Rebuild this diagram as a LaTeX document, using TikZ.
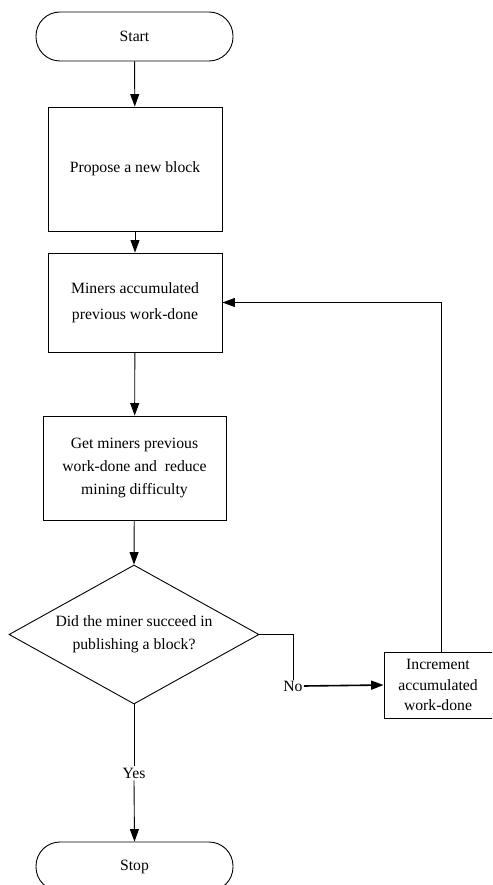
\documentclass[tikz,border=0pt]{standalone}
\usepackage{fontspec}
\setmainfont{Liberation Serif}
\usetikzlibrary{arrows.meta,shapes.geometric}
\begin{document}
\begin{tikzpicture}[x=1pt,y=-1pt,
  every node/.style={font=\fontsize{15.7}{23}\selectfont},
  line/.style={draw, line width=0.9pt},
  tip/.style={-{Triangle[length=12.5pt,width=9pt]}},
  flow/.style={line, tip},
  terminal/.style={draw, line width=0.9pt, rounded corners=24pt,
    minimum width=197pt, minimum height=49pt, inner sep=0pt},
  process/.style={draw, line width=0.9pt, align=center, inner sep=0pt},
  decision/.style={draw, line width=0.9pt, diamond, inner sep=0pt,
    minimum width=250pt, minimum height=139pt}
]
\useasboundingbox (0,0) rectangle (492,885);
\begin{scope}
\clip (0,0) rectangle (492,885);

% terminals
\node[terminal] (start) at (134.5,36.5) {Start};
\node[terminal] (stop)  at (134.5,866.5) {Stop};

% process steps
\node[process, minimum width=174pt, minimum height=124pt] (propose) at (135,169)
  {Propose a new block};
\node[process, minimum width=174pt, minimum height=99pt,
  font=\fontsize{15.7}{26}\selectfont] (acc) at (135,302.5)
  {Miners accumulated\\previous work-done};
\node[process, minimum width=183pt, minimum height=104pt] (get) at (134.5,468)
  {Get miners previous\\work-done and\ \ reduce\\mining difficulty};

% decision
\node[decision] (dec) at (134,634.5) {};
\node[align=center] (dectext) at (dec.center) {Did the miner succeed in\\publishing a block?};

% increment step (runs past the right edge)
\node[process, minimum width=114pt, minimum height=66pt, text width=107pt,
  font=\fontsize{15.7}{20.5}\selectfont] (inc) at (441,685)
  {\hspace*{-6pt}Increment\\\hspace*{-6pt}accumulated\\\hspace*{-6pt}work-done};

% branch labels
\node[inner sep=1pt] (no) at (293,686) {No};
\node[inner sep=2pt] (yes) at (134,773) {Yes};

% main flow
\draw[flow] (start) -- (propose);
\draw[flow] (propose) -- (acc);
\draw[flow] (acc) -- (get);
\draw[flow] (get) -- (dec.north);

% yes branch
\draw[line] (dec.south) -- (yes.north);
\draw[flow] (yes.south) -- (stop.north);

% no branch
\draw[line] (dec.east) -| (no.north);
\draw[line, line width=1.6pt, tip] (no.east) -- (inc.west);

% loop back
\draw[flow] (inc.north) |- (acc.east);
\end{scope}
\end{tikzpicture}
\end{document}
